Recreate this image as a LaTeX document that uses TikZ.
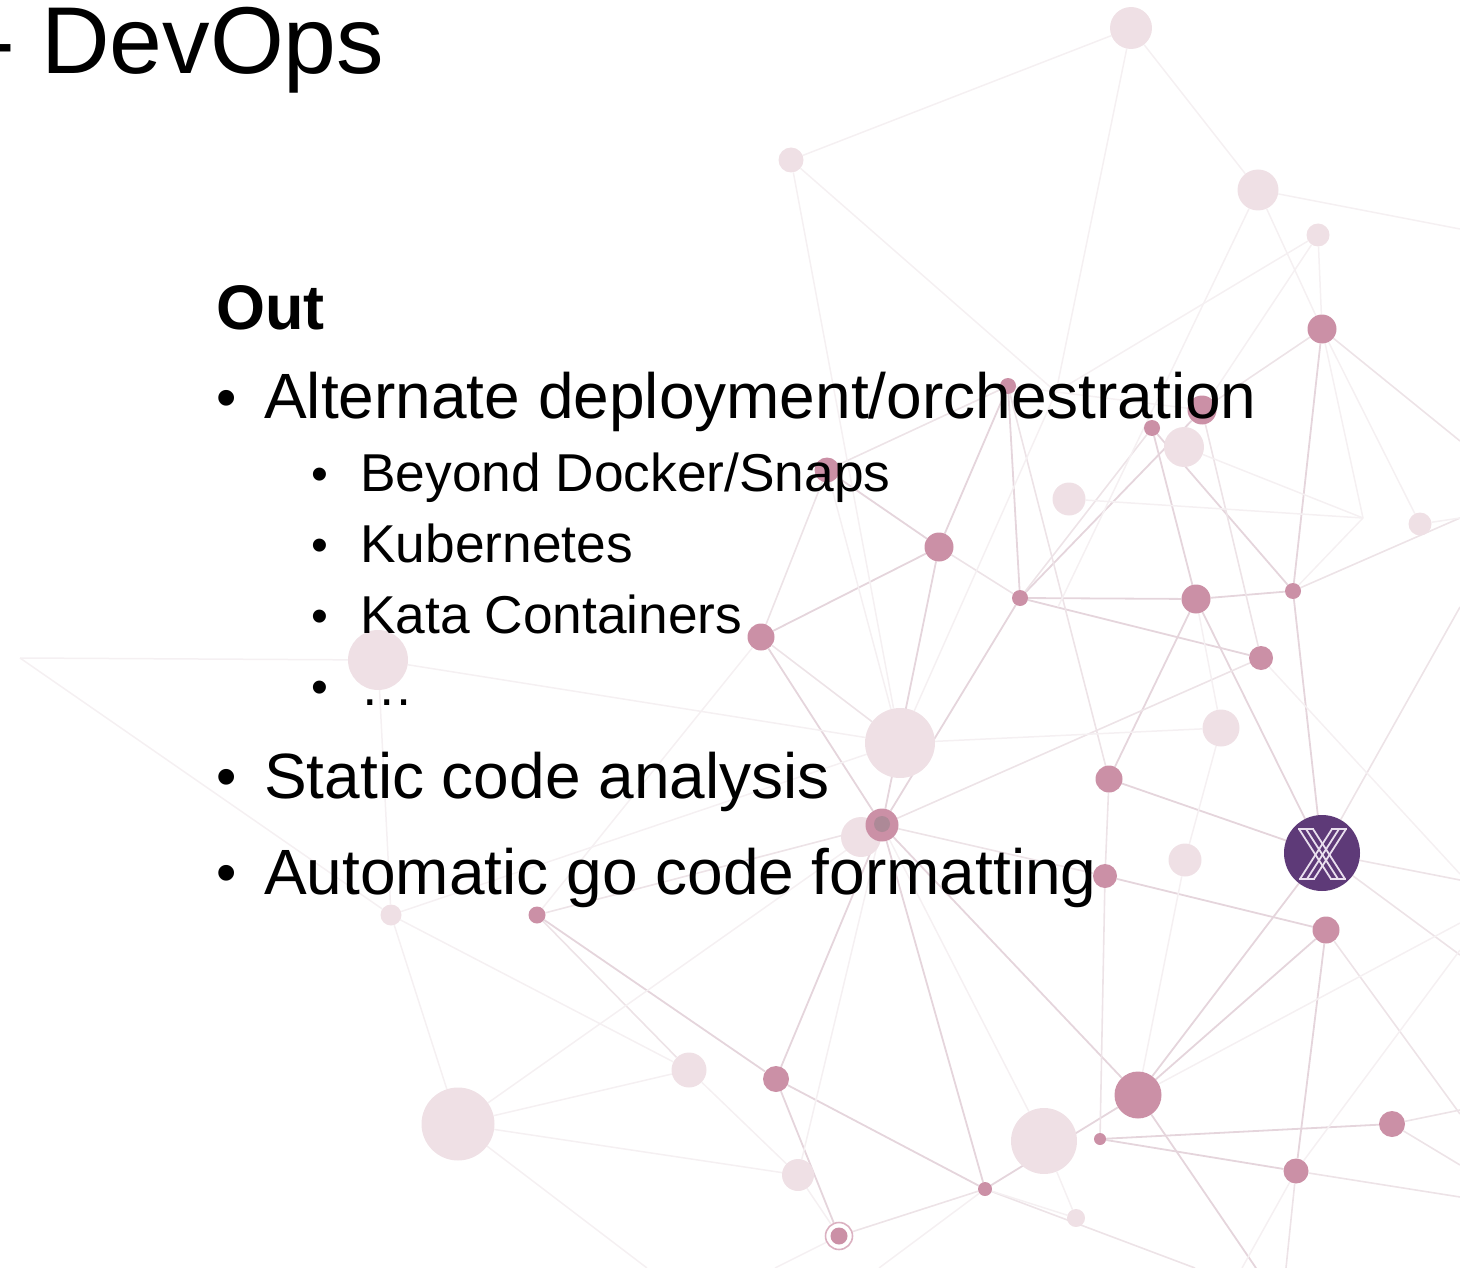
\documentclass[tikz,border=0pt]{standalone}
\usepackage{fontspec}
\setmainfont{Liberation Sans}
\pgfdeclarelayer{edges}
\pgfsetlayers{edges,main}
\definecolor{lnodec}{HTML}{EFE0E5}
\definecolor{dnodec}{HTML}{CB90A6}
\definecolor{edgesc}{HTML}{E5D5DC}
\definecolor{edgemc}{HTML}{EDE3E7}
\definecolor{edgefc}{HTML}{F5F0F2}
\definecolor{xpurple}{HTML}{5E3A78}
\definecolor{xstripe}{HTML}{E9DFEE}
\tikzset{
  x=1pt,y=-1pt,
  lnode/.style={circle,fill=lnodec,inner sep=0pt,minimum size=#1},
  dnode/.style={circle,fill=dnodec,inner sep=0pt,minimum size=#1},
  xnode/.style={circle,fill=xpurple,inner sep=0pt,minimum size=#1},
  edgeS/.style={edgesc,line width=1.8pt},
  edgeM/.style={edgemc,line width=1.6pt},
  edgeF/.style={edgefc,line width=1.5pt},
  xstr/.style={xstripe,line width=1.8pt},
  big/.style={anchor=base west,inner sep=0pt,font=\fontsize{64}{64}\selectfont},
  small/.style={anchor=base west,inner sep=0pt,font=\fontsize{53.3}{53.3}\selectfont},
  bigdot/.style={anchor=base west,inner sep=0pt,font=\fontsize{58}{58}\selectfont},
  smalldot/.style={anchor=base west,inner sep=0pt,font=\fontsize{48}{48}\selectfont},
}
\begin{document}
\begin{tikzpicture}
\useasboundingbox (0,0) rectangle (1460,1268);
% light nodes
\node[lnode=42] (a1) at (1131,28) {};
\node[lnode=25] (a2) at (791,160) {};
\node[lnode=41] (a3) at (1258,190) {};
\node[lnode=23] (a4) at (1318,235) {};
\node[lnode=40] (l1) at (1184,447) {};
\node[lnode=33] (l2) at (1069,499) {};
\node[lnode=23] (l3) at (1420,524) {};
\node[lnode=60] (l4) at (378,660) {};
\node[lnode=37] (l5) at (1221,728) {};
\node[lnode=70] (l6) at (900,743) {};
\node[lnode=40] (l7) at (861,837) {};
\node[lnode=33] (l8) at (1185,860) {};
\node[lnode=21] (l9) at (391,915) {};
\node[lnode=35] (l10) at (689,1070) {};
\node[lnode=73] (l11) at (458,1124) {};
\node[lnode=66] (l12) at (1044,1141) {};
\node[lnode=32] (l13) at (798,1175) {};
\node[lnode=18] (l14) at (1076,1218) {};
% dark nodes
\node[dnode=29] (d1) at (1322,329) {};
\node[dnode=16] (d2) at (1008,386) {};
\node[dnode=29] (d3) at (1202,410) {};
\node[dnode=16] (d4) at (1152,428) {};
\node[dnode=25] (d5) at (827,470) {};
\node[dnode=29] (d6) at (939,547) {};
\node[dnode=16] (d7) at (1020,598) {};
\node[dnode=29] (d8) at (1196,599) {};
\node[dnode=16] (d9) at (1293,591) {};
\node[dnode=27] (d10) at (761,637) {};
\node[dnode=24] (d11) at (1261,658) {};
\node[dnode=27] (d12) at (1109,779) {};
\node[dnode=33] (d13) at (882,825) {};
\node[dnode=24] (d14) at (1105,876) {};
\node[dnode=27] (d15) at (1326,930) {};
\node[dnode=17] (d16) at (537,915) {};
\node[dnode=26] (d17) at (776,1079) {};
\node[dnode=47] (d18) at (1138,1095) {};
\node[dnode=26] (d19) at (1392,1124) {};
\node[dnode=12] (d20) at (1100,1139) {};
\node[dnode=25] (d21) at (1296,1171) {};
\node[dnode=14] (d22) at (985,1189) {};
% special nodes
\node[circle,fill=white,draw=dnodec!70,line width=1.6pt,inner sep=0pt,minimum size=27] (r1) at (839,1236) {};
\node[dnode=17] (r2) at (839,1236) {};
\node[circle,fill=dnodec!60!gray,inner sep=0pt,minimum size=16] (d13c) at (882,824) {};
\node[xnode=76] (xn) at (1322,853) {};
% X logo
\foreach \o in {-7,0,7} {
  \draw[xstr] (1306+\o,829) -- (1338+\o,879);
  \draw[xstr] (1339+\o,829) -- (1307+\o,879);
}
\draw[xstr] (1298,829) -- (1314,829);
\draw[xstr] (1331,829) -- (1347,829);
\draw[xstr] (1299,879) -- (1315,879);
\draw[xstr] (1330,879) -- (1346,879);
% free ends
\coordinate (h1) at (1056,392);
\coordinate (h2) at (1363,518);
\coordinate (h3) at (1058,607);
\coordinate (e1) at (1460,229);
\coordinate (e2) at (1460,441);
\coordinate (e3) at (1460,518);
\coordinate (e4) at (1460,880);
\coordinate (e5) at (1460,955);
\coordinate (e6) at (1460,923);
\coordinate (e7) at (1460,1114);
\coordinate (e8) at (1460,1110);
\coordinate (e9) at (1460,1165);
\coordinate (e10) at (1460,1197);
\coordinate (e11) at (1460,950);
\coordinate (e12) at (1460,607);
\coordinate (e13) at (1460,874);
\coordinate (e14) at (20,658);
\coordinate (b1) at (1286,1268);
\coordinate (b2) at (1256,1268);
\coordinate (b3) at (1195,1268);
\coordinate (b4) at (1242,1268);
\coordinate (b5) at (775,1268);
\coordinate (b6) at (879,1268);
\coordinate (b7) at (647,1268);
\begin{pgfonlayer}{edges}
\foreach \p/\q in {d1/d9,d4/d9,d4/d8,d7/d3,d7/d8,d8/d9,d7/d11,d6/d10,d5/d6,d2/d6,d2/d7,d8/xn,d9/xn,d8/d12,d12/xn,d15/d18,xn/d18,d16/d17,d17/r1,d17/d22,d13/d18,d13/d22,d13/d17,d10/d13,d13/d6,d13/d7,d18/d22,d15/d21,d15/d14,d19/d20,d20/d21,d18/b2}
  \draw[edgeS] (\p) -- (\q);
\foreach \p/\q in {d1/d3,d13/d11,d9/e3,d1/e2,d3/d11,d2/d12,d14/d12,d14/d20,d13/d14,d16/d13,d16/l10,d5/d2,d5/d10,xn/e5,xn/e4,xn/e12,d15/e7,d19/e8,d19/e9,d21/e10,d21/b1,d22/b3,d22/r1,d10/l6,d6/d7,d4/d7}
  \draw[edgeM] (\p) -- (\q);
\foreach \p/\q in {a1/a2,a1/h1,a2/h1,a4/h1,a1/a3,a2/l6,a3/e1,a3/d1,a4/d1,a3/h3,a4/d3,d2/d3,h1/l6,d5/l6,h2/l1,h2/l2,h2/d1,h2/d9,d1/l3,l3/e3,l5/l6,l5/d8,l5/l8,l8/d18,d11/e13,d18/e6,d21/e11,d21/b4,d13/l12,d13/l13,l13/r1,l10/l13,d22/l14,l14/l12,l4/e14,e14/l9,l4/l9,l4/l6,l9/l10,l9/l11,l9/l6,l11/l10,l11/l13,l11/b7,l11/d13,d16/d10,r1/b5,d22/b6}
  \draw[edgeF] (\p) -- (\q);
\end{pgfonlayer}
% text
\node[anchor=base west,inner sep=0pt,font=\fontsize{95}{95}\selectfont] (title) at (-17,74) {- DevOps};
\node[big,font=\fontsize{63}{63}\selectfont\bfseries] (out) at (216,330) {Out};
\node[bigdot] (b1t) at (216.5,417) {•};
\node[big] (t1) at (264,418) {Alternate deployment/orchestration};
\node[smalldot] (b2t) at (311.5,490) {•};
\node[small] (t2) at (360,491.5) {Beyond Docker/Snaps};
\node[smalldot] (b3t) at (311.5,561) {•};
\node[small] (t3) at (360,562.5) {Kubernetes};
\node[smalldot] (b4t) at (311.5,632) {•};
\node[small] (t4) at (360,633.5) {Kata Containers};
\node[smalldot] (b5t) at (311.5,703) {•};
\node[small] (t5) at (360,705) {…};
\node[bigdot] (b6t) at (216.5,796) {•};
\node[big] (t6) at (264,798) {Static code analysis};
\node[bigdot] (b7t) at (216.5,892) {•};
\node[big] (t7) at (264,894) {Automatic go code formatting};
\end{tikzpicture}
\end{document}
